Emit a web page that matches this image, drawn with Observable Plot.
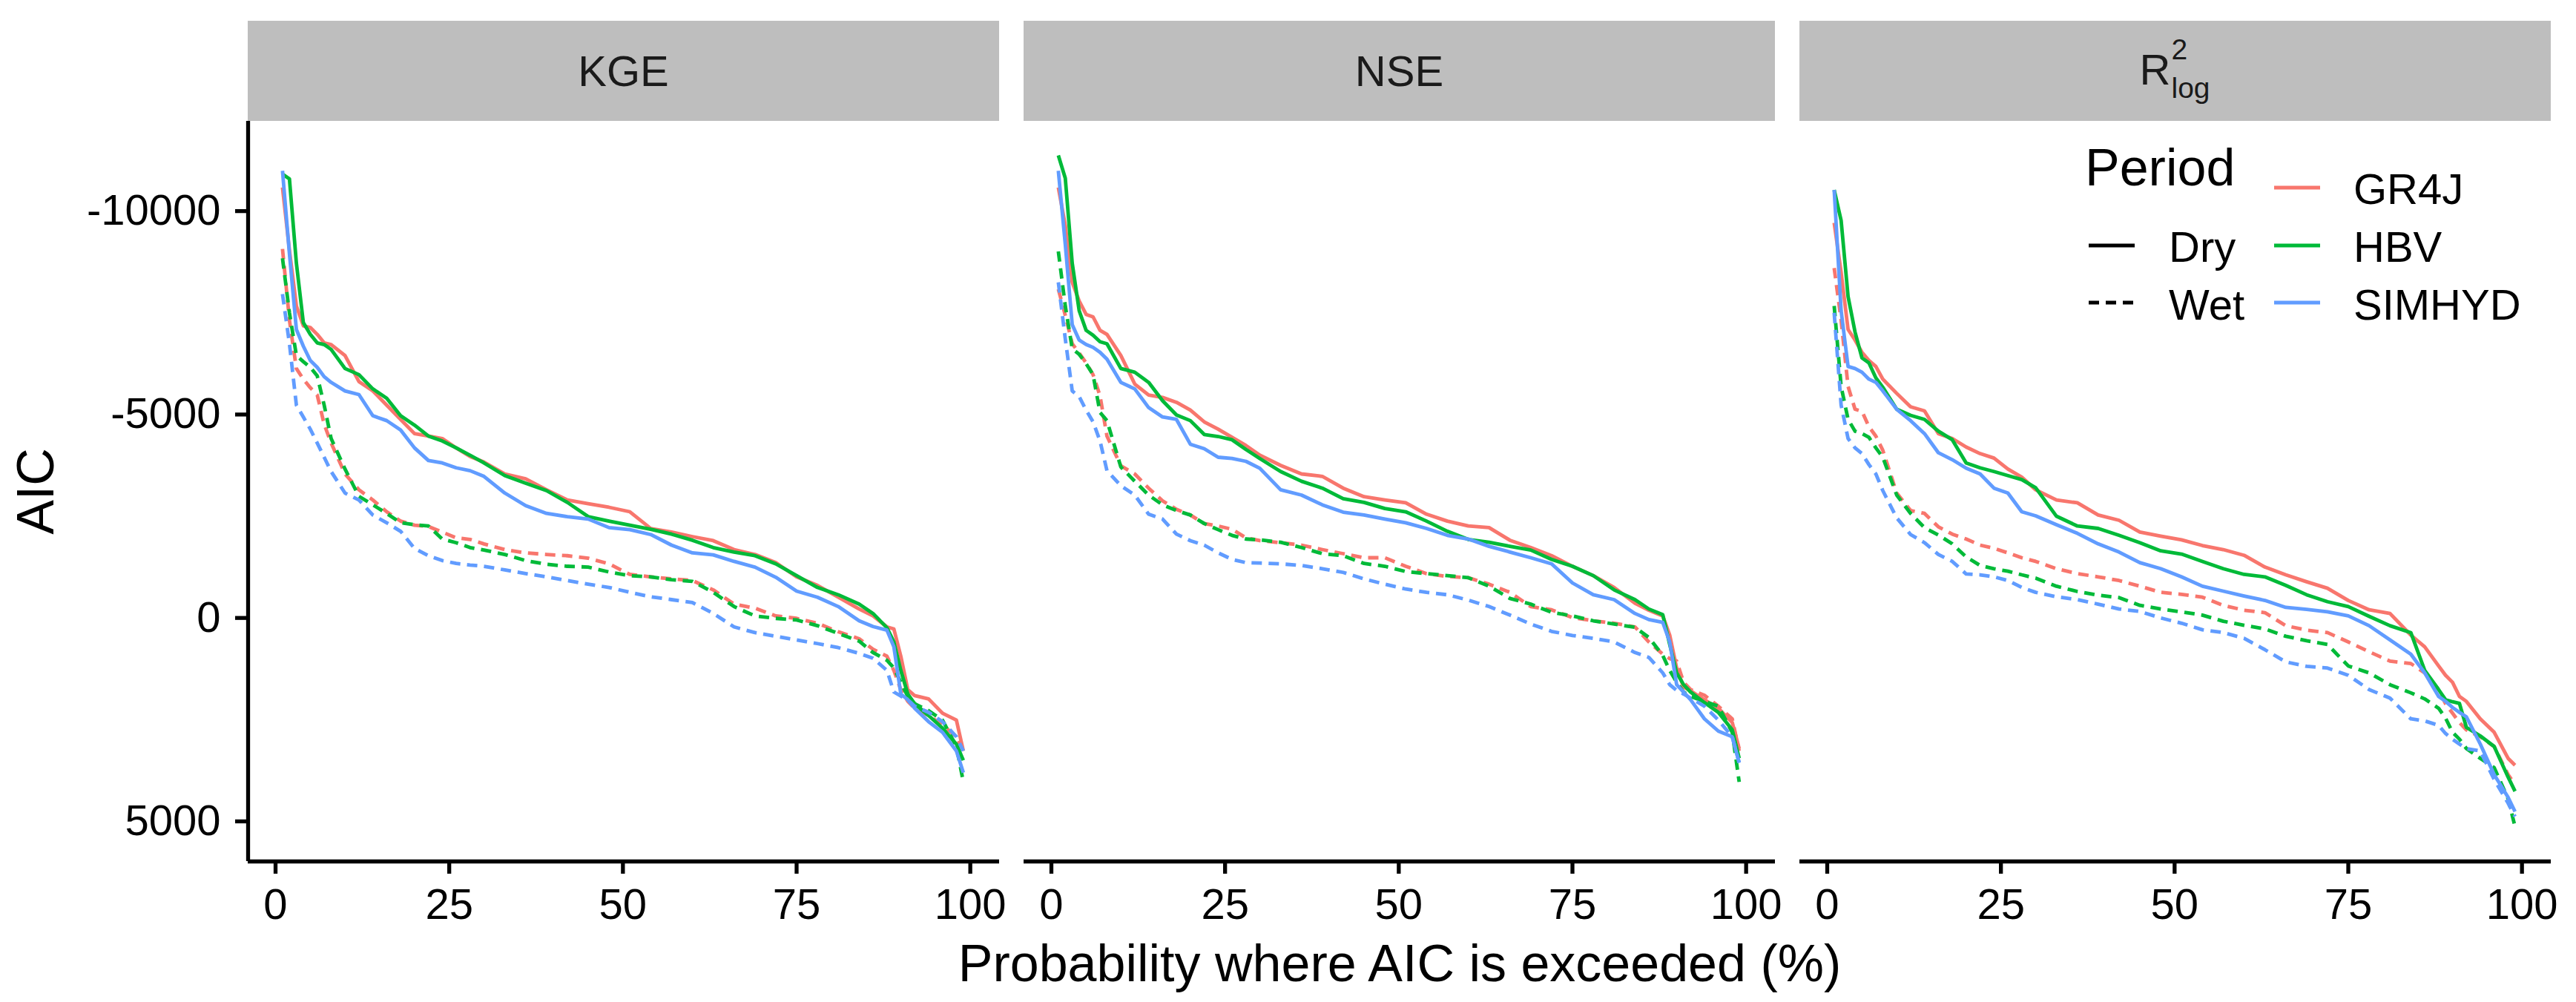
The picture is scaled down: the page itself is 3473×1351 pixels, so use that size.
<!DOCTYPE html>
<html>
<head>
<meta charset="utf-8">
<script src="https://cdn.jsdelivr.net/npm/d3@7"></script>
<script src="https://cdn.jsdelivr.net/npm/@observablehq/plot@0.6"></script>
<style>
  html, body { margin: 0; padding: 0; background: #ffffff; }
  #wrap { position: relative; width: 3473px; height: 1351px; font-family: "Liberation Sans", Arial, Helvetica, sans-serif; }
  #wrap svg { position: absolute; left: 0; top: 0; }
</style>
</head>
<body>
<div id="wrap"></div>
<script>
// ---------------- data ----------------
const metrics = ["KGE", "NSE", "R2log"];
const models = ["GR4J", "HBV", "SIMHYD"];
const periods = ["Dry", "Wet"];
const modelColors = ["#F8766D", "#00BA38", "#619CFF"];
const xTicks = [0, 25, 50, 75, 100];
const yTicks = [-10000, -5000, 0, 5000];

// exceedance probability (%) at which AIC values were read
const probs = [1,2,3,4,5,6,7,8,10,12,14,16,18,20,22,24,26,28,30,33,36,39,42,45,48,51,54,57,60,63,66,69,72,75,78,81,84,86,88,89,90,91,92,94,96,98,99];

// KGE
const kgeGR4JDry   = [-10580,-9040,-7670,-7180,-7140,-6970,-6760,-6720,-6450,-5810,-5580,-5230,-4880,-4530,-4470,-4410,-4180,-3970,-3830,-3540,-3420,-3150,-2900,-2810,-2720,-2610,-2200,-2110,-2000,-1900,-1680,-1560,-1360,-1010,-800,-510,-220,-50,220,270,940,1760,1910,1990,2340,2510,3270];
const kgeHBVDry    = [-10910,-10790,-8720,-7260,-6970,-6760,-6720,-6600,-6130,-5980,-5630,-5400,-4970,-4740,-4470,-4350,-4180,-4000,-3810,-3500,-3310,-3130,-2840,-2490,-2380,-2280,-2180,-2060,-1910,-1730,-1620,-1530,-1330,-1040,-750,-570,-340,-110,240,590,1290,1870,2110,2400,2710,3100,3500];
const kgeSIMHYDDry = [-10990,-8950,-7090,-6680,-6330,-6160,-5930,-5790,-5580,-5490,-4970,-4850,-4620,-4180,-3870,-3810,-3690,-3620,-3480,-3070,-2760,-2570,-2490,-2430,-2220,-2170,-2050,-1790,-1600,-1550,-1390,-1250,-1000,-660,-510,-280,70,210,300,710,1870,2010,2220,2550,2810,3270,3800];
const kgeGR4JWet   = [-9070,-7320,-6130,-5870,-5660,-5480,-4760,-4300,-3540,-3150,-2900,-2610,-2380,-2280,-2250,-2110,-1970,-1930,-1820,-1680,-1600,-1560,-1530,-1470,-1330,-1070,-1010,-960,-920,-690,-340,-240,-50,10,130,340,510,770,940,1290,1760,2050,2220,2400,2630,2920,3270];
const kgeHBVWet    = [-8840,-7500,-6450,-6300,-6160,-5950,-5230,-4410,-3660,-2990,-2780,-2570,-2340,-2290,-2260,-1940,-1850,-1730,-1670,-1560,-1410,-1320,-1270,-1250,-1130,-1040,-1010,-940,-900,-630,-280,-50,10,50,190,380,570,850,1040,1230,1580,1930,2110,2280,2510,3160,4030];
const kgeSIMHYDWet = [-7960,-6740,-5230,-4940,-4640,-4300,-3950,-3600,-3070,-2900,-2530,-2340,-2130,-1710,-1530,-1410,-1340,-1300,-1270,-1180,-1090,-1010,-920,-830,-750,-630,-520,-450,-380,-110,220,360,450,540,630,730,870,990,1290,1820,1920,2010,2170,2320,2550,2920,3270];

// NSE
const nseGR4JDry   = [-10580,-9650,-8250,-7790,-7460,-7400,-7070,-6970,-6450,-5750,-5480,-5420,-5300,-5110,-4820,-4640,-4440,-4240,-4000,-3750,-3540,-3480,-3190,-2980,-2900,-2830,-2550,-2380,-2260,-2220,-1910,-1730,-1530,-1270,-1040,-750,-360,-190,-50,420,1230,1700,1790,2010,2220,2570,3210];
const nseHBVDry    = [-11370,-10810,-8720,-7550,-7070,-6950,-6790,-6740,-6130,-6040,-5790,-5340,-4990,-4850,-4510,-4460,-4380,-4140,-3920,-3600,-3360,-3190,-2930,-2840,-2690,-2610,-2380,-2130,-1930,-1860,-1760,-1670,-1440,-1270,-1040,-690,-450,-220,-80,650,1350,1640,1820,2080,2320,2750,3450];
const nseSIMHYDDry = [-10990,-9180,-7210,-6830,-6720,-6650,-6530,-6360,-5790,-5630,-5170,-4940,-4880,-4270,-4160,-3950,-3920,-3850,-3680,-3150,-3020,-2780,-2600,-2530,-2430,-2340,-2200,-2030,-1940,-1760,-1620,-1480,-1330,-860,-570,-450,-110,40,110,590,1640,1820,2010,2480,2780,2920,3560];
const nseGR4JWet   = [-8080,-7440,-6740,-6510,-6270,-5980,-5460,-4470,-3740,-3540,-3190,-2880,-2670,-2530,-2320,-2260,-2180,-1970,-1900,-1850,-1790,-1680,-1580,-1480,-1480,-1270,-1090,-1020,-990,-830,-630,-280,-200,-10,70,130,220,590,890,1000,1060,1580,1760,1900,2170,2480,3270];
const nseHBVWet    = [-9010,-7670,-6620,-6480,-6250,-5980,-5050,-4850,-3710,-3360,-3020,-2780,-2640,-2530,-2320,-2170,-2030,-1940,-1920,-1860,-1730,-1580,-1530,-1340,-1270,-1140,-1090,-1040,-990,-780,-480,-340,-140,-50,70,150,230,480,920,1290,1580,1820,1930,2050,2170,2810,4030];
const nseSIMHYDWet = [-8250,-6860,-5580,-5440,-5110,-4820,-4350,-3620,-3250,-3020,-2550,-2430,-2060,-1900,-1790,-1600,-1440,-1360,-1350,-1330,-1290,-1210,-1120,-960,-830,-710,-630,-570,-440,-280,-70,150,330,430,500,590,850,970,1350,1640,1780,1870,1970,2170,2510,2920,3560];

// R2log
const r2GR4JDry    = [-9710,-8490,-7090,-6830,-6530,-6330,-6180,-5870,-5520,-5190,-5090,-4530,-4410,-4200,-4040,-3930,-3660,-3460,-3150,-2900,-2830,-2530,-2400,-2110,-2010,-1920,-1780,-1680,-1540,-1250,-1060,-890,-730,-430,-200,-110,420,710,1180,1410,1580,1930,2050,2480,2810,3450,3620];
const r2HBVDry     = [-10520,-9770,-7900,-7030,-6390,-6270,-5900,-5670,-5130,-4980,-4880,-4590,-4380,-3810,-3690,-3600,-3500,-3400,-3200,-2500,-2260,-2200,-2030,-1850,-1650,-1570,-1390,-1210,-1070,-1010,-800,-570,-400,-280,-40,190,360,1290,1760,2010,2060,2100,2690,2900,3160,3910,4260];
const r2SIMHYDDry  = [-10520,-7550,-6180,-6130,-6040,-5870,-5790,-5580,-5130,-4850,-4530,-4060,-3890,-3680,-3540,-3190,-3070,-2610,-2510,-2290,-2080,-1820,-1620,-1360,-1210,-1010,-780,-660,-540,-430,-260,-210,-150,-50,190,540,890,1350,1930,2050,2200,2320,2430,3100,3850,4410,4760];
const r2GR4JWet    = [-8600,-7320,-5690,-5130,-5080,-4700,-4470,-4120,-3070,-2640,-2570,-2240,-2060,-1940,-1790,-1710,-1600,-1480,-1390,-1210,-1090,-1010,-920,-780,-630,-580,-510,-310,-190,-130,190,300,360,590,830,1060,1120,1350,1760,2110,2340,2570,2750,2920,3160,3850,4090];
const r2HBVWet     = [-7670,-5690,-4880,-4590,-4530,-4440,-4180,-3950,-3020,-2570,-2220,-2040,-1820,-1500,-1290,-1210,-1150,-1060,-980,-780,-650,-560,-500,-310,-220,-150,-70,80,180,270,450,560,650,1180,1350,1640,1840,1990,2220,2460,2810,2980,3210,3450,3680,4440,5130];
const r2SIMHYDWet  = [-7500,-5230,-4410,-4180,-4040,-3770,-3540,-3130,-2460,-2050,-1850,-1560,-1390,-1080,-1060,-1010,-920,-750,-630,-520,-450,-340,-220,-160,0,130,290,360,500,780,1080,1190,1230,1410,1760,1970,2480,2530,2640,2840,2980,3100,3210,3270,3970,4550,4880];

const series = {
  KGE:   {GR4J: {Dry: kgeGR4JDry, Wet: kgeGR4JWet}, HBV: {Dry: kgeHBVDry, Wet: kgeHBVWet}, SIMHYD: {Dry: kgeSIMHYDDry, Wet: kgeSIMHYDWet}},
  NSE:   {GR4J: {Dry: nseGR4JDry, Wet: nseGR4JWet}, HBV: {Dry: nseHBVDry, Wet: nseHBVWet}, SIMHYD: {Dry: nseSIMHYDDry, Wet: nseSIMHYDWet}},
  R2log: {GR4J: {Dry: r2GR4JDry,  Wet: r2GR4JWet},  HBV: {Dry: r2HBVDry,  Wet: r2HBVWet},  SIMHYD: {Dry: r2SIMHYDDry,  Wet: r2SIMHYDWet}}
};

// long table
const rows = [];
for (const metric of metrics)
  for (const model of models)
    for (const period of periods)
      series[metric][model][period].forEach((aic, i) => rows.push({metric, model, period, prob: probs[i], aic}));

// ---------------- chart ----------------
const W = 3473, H = 1351;
const xDomain = [-3.95, 104.2];
const yDomain = [-12208, 5985];
const FONT = "Liberation Sans, Arial, Helvetica, sans-serif";
const LW = 4.8;

const lineMarks = [];
for (const model of models) {
  for (const period of periods) {
    lineMarks.push(Plot.line(rows.filter(d => d.model === model && d.period === period), {
      x: "prob", y: "aic", fx: "metric", stroke: "model",
      strokeWidth: LW, strokeLinecap: "butt", strokeLinejoin: "round",
      strokeDasharray: period === "Wet" ? "14,9" : null
    }));
  }
}

const chart = Plot.plot({
  width: W, height: H,
  marginTop: 163, marginBottom: 190, marginLeft: 333, marginRight: 32,
  style: {fontFamily: FONT, background: "transparent", color: "#000"},
  fx: {domain: metrics, paddingInner: 0.0315, paddingOuter: 0, axis: null, label: null},
  x: {domain: xDomain},
  y: {domain: yDomain, reverse: true},
  color: {domain: models, range: modelColors},
  marks: [
    // axis lines
    Plot.ruleY([yDomain[1]], {strokeWidth: 5.3, stroke: "#000"}),
    Plot.ruleX([{metric: metrics[0], x: xDomain[0]}], {x: "x", fx: "metric", strokeWidth: 5.3, stroke: "#000"}),
    // ticks + tick labels
    Plot.axisX({ticks: xTicks, tickSize: 17, tickPadding: 19, fontSize: 58, strokeWidth: 5.3, label: null, tickFormat: d => `${d}`}),
    Plot.axisY({ticks: yTicks, tickSize: 17, tickPadding: 20, fontSize: 58, strokeWidth: 5.3, label: null, tickFormat: d => `${d}`}),
    // axis titles
    Plot.axisX({ticks: [], tickSize: 0, fontSize: 70, label: "Probability where AIC is exceeded (%)", labelAnchor: "center", labelOffset: 161, labelArrow: "none"}),
    Plot.axisY({ticks: [], tickSize: 0, fontSize: 70, label: "AIC", labelAnchor: "center", labelOffset: 312, labelArrow: "none"}),
    ...lineMarks
  ]
});

const wrap = document.getElementById("wrap");
wrap.appendChild(chart);

// ---------------- strips + legend overlay ----------------
const fx = chart.scale("fx");
const overlay = d3.create("svg")
  .attr("width", W).attr("height", H)
  .attr("font-family", FONT)
  .style("pointer-events", "none");

const stripTop = 28, stripH = 135;
for (const m of metrics) {
  const x0 = fx.apply(m), bw = fx.bandwidth;
  const cx = x0 + bw / 2;
  overlay.append("rect").attr("x", x0).attr("y", stripTop).attr("width", bw).attr("height", stripH)
    .attr("fill", "#BEBEBE");
  if (m === "R2log") {
    const left = cx - 48;
    overlay.append("text").attr("x", left).attr("y", 114).attr("font-size", 58).attr("fill", "#1a1a1a").text("R");
    overlay.append("text").attr("x", left + 43).attr("y", 80).attr("font-size", 39).attr("fill", "#1a1a1a").text("2");
    overlay.append("text").attr("x", left + 43).attr("y", 132).attr("font-size", 39).attr("fill", "#1a1a1a").text("log");
  } else {
    overlay.append("text").attr("x", cx).attr("y", 116).attr("text-anchor", "middle")
      .attr("font-size", 58).attr("fill", "#1a1a1a").text(m);
  }
}

// legend (inside the third panel)
const lg = overlay.append("g");
lg.append("text").attr("x", 2811).attr("y", 250).attr("font-size", 70).text("Period");
const rowY = [253, 331, 408];
const baseY = [275, 353, 431];
periods.forEach((p, i) => {
  lg.append("line").attr("x1", 2816).attr("x2", 2878).attr("y1", rowY[i + 1]).attr("y2", rowY[i + 1])
    .attr("stroke", "#000").attr("stroke-width", 5)
    .attr("stroke-dasharray", p === "Wet" ? "14,9" : null);
  lg.append("text").attr("x", 2924).attr("y", baseY[i + 1]).attr("font-size", 58).text(p);
});
models.forEach((m, i) => {
  lg.append("line").attr("x1", 3066).attr("x2", 3128).attr("y1", rowY[i]).attr("y2", rowY[i])
    .attr("stroke", modelColors[i]).attr("stroke-width", 5);
  lg.append("text").attr("x", 3173).attr("y", baseY[i]).attr("font-size", 58).text(m);
});

wrap.appendChild(overlay.node());
</script>
</body>
</html>
